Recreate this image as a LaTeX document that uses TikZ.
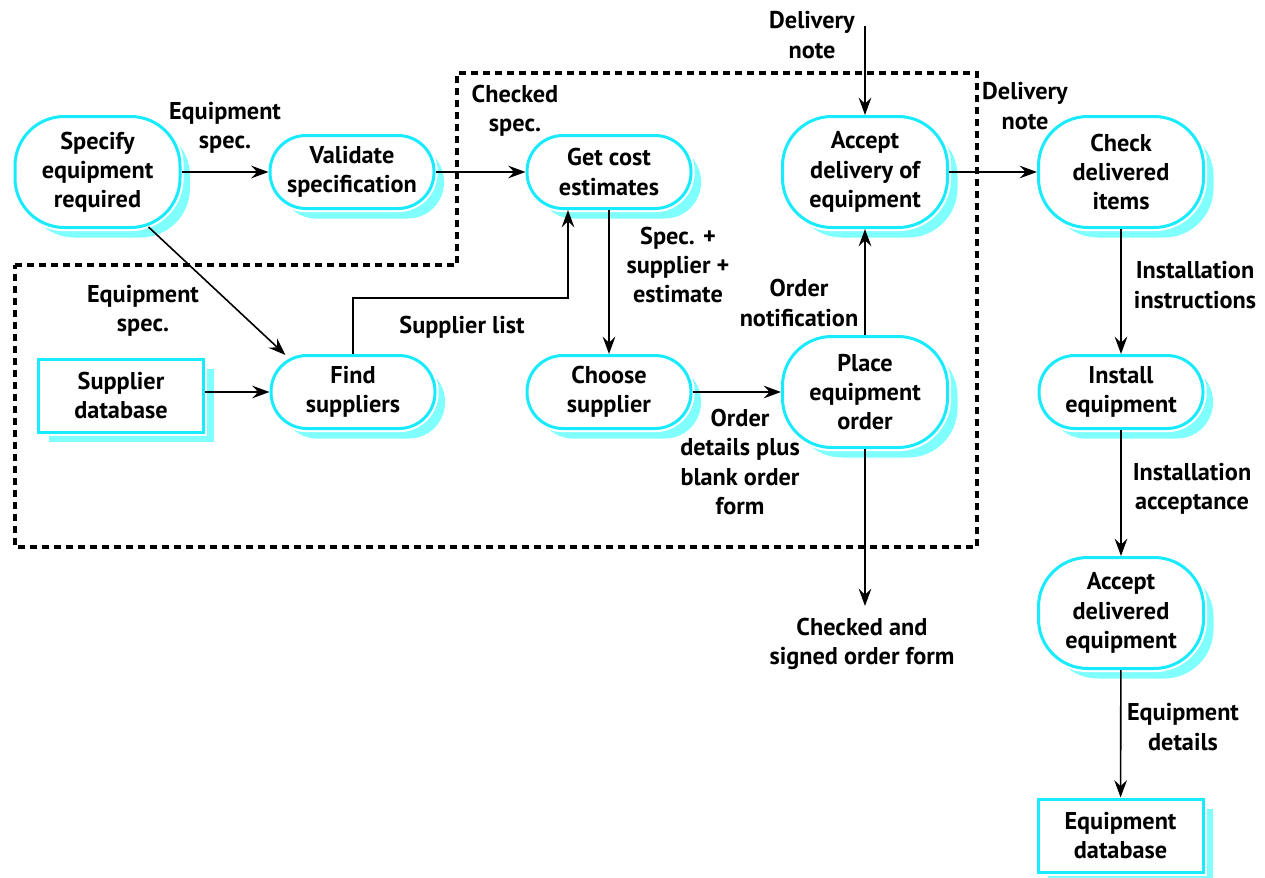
\documentclass[tikz,border=0pt]{standalone}
\usepackage{fontspec}
\setmainfont{PT Sans}
\usetikzlibrary{arrows.meta,calc,shadows}
\definecolor{procline}{RGB}{25,235,255}
\definecolor{procshadow}{RGB}{128,255,255}
\begin{document}
\begin{tikzpicture}[x=0.75pt,y=-0.75pt,
  txt/.style={font=\bfseries\fontsize{18.2}{21.9}\selectfont, align=center, inner sep=0pt},
  boxbase/.style={txt, draw=procline, line width=2.25pt, fill=white,
    drop shadow={shadow xshift=7.5pt, shadow yshift=-7.5pt, fill=procshadow, opacity=1, draw=none},
    preaction={draw=white, line width=5.5pt}},
  activity/.style={boxbase, rounded corners=27pt, minimum width=123pt, minimum height=54.75pt},
  tallactivity/.style={boxbase, rounded corners=37pt, minimum width=123.75pt, minimum height=83.25pt},
  store/.style={boxbase, minimum width=123.75pt, minimum height=54.75pt},
  flowlabel/.style={txt},
  flow/.style={line width=1.2pt, -{Stealth[length=13pt, width=9.5pt, inset=4.5pt]}},
  boundary/.style={line width=3pt, dash pattern=on 5.25pt off 3.75pt}
]
\useasboundingbox (0,0) rectangle (1265,878);

% process boundary
\draw[boundary] (15,265) -- (457,265) -- (457,73) -- (977,73) -- (977,547) -- (15,547) -- cycle;

% activities
\node[tallactivity] (specify) at (97.5,172) {Specify\\equipment\\required};
\node[activity] (validate) at (352,172) {Validate\\specification};
\node[activity] (getcost) at (609,172) {Get cost\\estimates};
\node[tallactivity] (accept) at (865,172) {Accept\\delivery of\\equipment};
\node[tallactivity] (check) at (1121,172) {Check\\delivered\\items};
\node[activity] (find) at (353,392) {Find\\suppliers};
\node[activity] (choose) at (609,392) {Choose\\supplier};
\node[tallactivity] (place) at (865,392) {Place\\equipment\\order};
\node[activity] (install) at (1121,392) {Install\\equipment};
\node[tallactivity] (acceptdel) at (1121,613) {Accept\\delivered\\equipment};

% data stores
\node[store] (supdb) at (121,395.5) {Supplier\\database};
\node[store] (eqdb) at (1120.5,835.5) {Equipment\\database};

% flow labels
\node[flowlabel] (l1) at (225,128) {Equipment\\spec.};
\node[flowlabel] (l2) at (515,111) {Checked\\spec.};
\node[flowlabel] (l3) at (143,311) {Equipment\\spec.};
\node[flowlabel] (l4) at (462,327) {Supplier list};
\node[flowlabel] (l5) at (678,265) {Spec. +\\supplier +\\estimate};
\node[flowlabel] (l6) at (799,303) {Order\\notification};
\node[flowlabel] (l7) at (740,462) {Order\\details plus\\blank order\\form};
\node[flowlabel] (dnote1) at (812,35) {Delivery\\note};
\node[flowlabel] (l9) at (1025,106) {Delivery\\note};
\node[flowlabel] (signed) at (862,644) {Checked and\\signed order form};
\node[flowlabel] (l11) at (1195,285) {Installation\\instructions};
\node[flowlabel] (l12) at (1192,489) {Installation\\acceptance};
\node[flowlabel] (l13) at (1183,727) {Equipment\\details};

% free ends and bends
\coordinate (dnin) at (865,26);
\coordinate (formout) at (865,606);
\coordinate (bend) at (568,298);

% flows
\draw[flow] (specify) -- (validate);
\draw[flow] (validate) -- (getcost);
\draw[flow] ($(specify.south)+(51,-2)$) -- ($(find.north west)+(16,1)$);
\draw[flow] (supdb.east |- find) -- (find);
\draw[flow] (find.north) |- (bend) -- (bend |- getcost.south);
\draw[flow] (getcost) -- (choose);
\draw[flow] (choose) -- (place);
\draw[flow] (place) -- (accept);
\draw[flow] (dnin) -- (accept);
\draw[flow] (accept) -- (check);
\draw[flow] (place) -- (formout);
\draw[flow] (check) -- (install);
\draw[flow] (install) -- (acceptdel);
\draw[flow] (acceptdel) -- (eqdb);
\end{tikzpicture}
\end{document}
